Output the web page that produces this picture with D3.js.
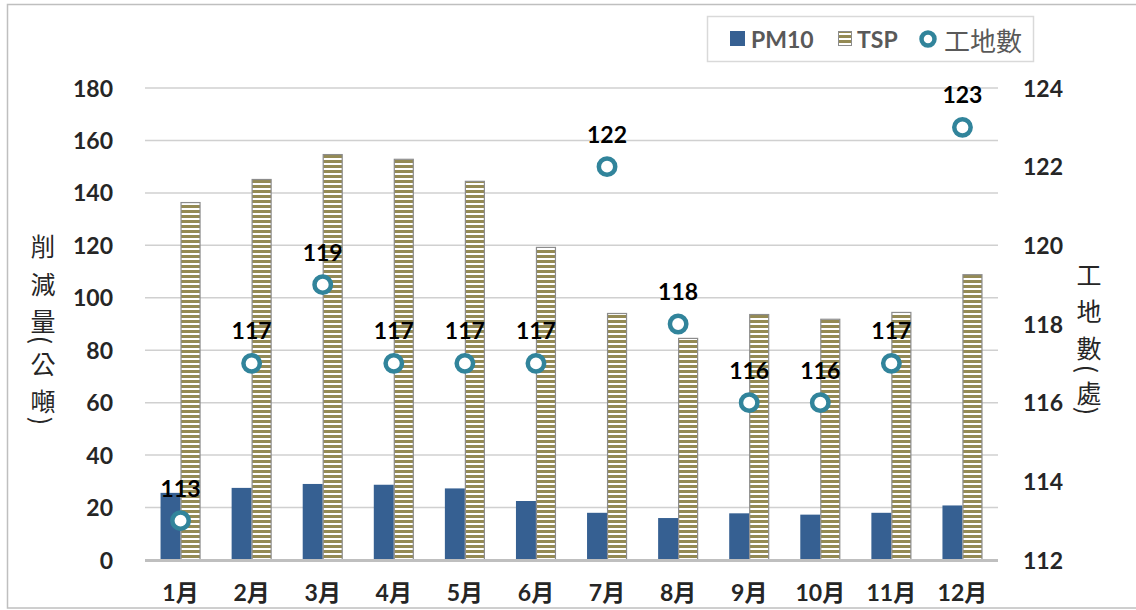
<!DOCTYPE html>
<html>
<head>
<meta charset="utf-8">
<script src="https://cdn.jsdelivr.net/npm/d3@7/dist/d3.min.js"></script>
<style>
  html, body { margin: 0; padding: 0; background: #fff; }
  svg { display: block; }
</style>
</head>
<body>
<svg id="chart" width="1136" height="610"></svg>
<script>
// Monthly dust reduction (tonnes) and number of construction sites
const months = ["1月","2月","3月","4月","5月","6月","7月","8月","9月","10月","11月","12月"];
const pm10 = [25.6, 27.5, 29.0, 28.7, 27.3, 22.5, 18.0, 16.0, 17.8, 17.3, 18.0, 20.8];
const tsp = [136.5, 145.3, 154.8, 153.0, 144.6, 119.4, 94.2, 84.7, 93.8, 92.0, 94.6, 109.0];
const sites = [113, 117, 119, 117, 117, 117, 122, 118, 116, 116, 117, 123];
const leftTicks = [0, 20, 40, 60, 80, 100, 120, 140, 160, 180];
const rightTicks = [112, 114, 116, 118, 120, 122, 124];

const latin = "Lato, 'Noto Sans CJK TC', sans-serif";
const cjk = "'Noto Sans CJK TC', 'Noto Sans', sans-serif";
const labelSize = 23;

const svg = d3.select("#chart");

const plot = { left: 145, right: 998, top: 88, bottom: 560 };

const x = d3.scaleBand().domain(months).range([plot.left, plot.right]);
const yL = d3.scaleLinear().domain([0, 180]).range([plot.bottom, plot.top]);
const yR = d3.scaleLinear().domain([112, 124]).range([plot.bottom, plot.top]);

// hatched fill for TSP bars
const defs = svg.append("defs");
const pat = defs.append("pattern")
  .attr("id", "tspHatch")
  .attr("patternUnits", "userSpaceOnUse")
  .attr("width", 8).attr("height", 5);
pat.append("rect").attr("width", 8).attr("height", 5).attr("fill", "#ffffff");
pat.append("rect").attr("y", 0).attr("width", 8).attr("height", 3).attr("fill", "#948a54");

// chart frame
svg.append("rect")
  .attr("x", 7.5).attr("y", 4.5).attr("width", 1140).attr("height", 603.5)
  .attr("fill", "none").attr("stroke", "#bfbfbf").attr("stroke-width", 1.5);

// gridlines
const grid = svg.append("g");
grid.selectAll("line").data(leftTicks.filter(d => d > 0)).join("line")
  .attr("x1", plot.left).attr("x2", plot.right)
  .attr("y1", d => yL(d)).attr("y2", d => yL(d))
  .attr("stroke", "#d0d0d0").attr("stroke-width", 1.5);

// left axis labels
const leftAxis = svg.append("g")
  .attr("transform", `translate(${plot.left - 32},0)`)
  .call(d3.axisLeft(yL).tickValues(leftTicks).tickSize(0).tickPadding(0));
leftAxis.select(".domain").remove();
leftAxis.selectAll("text")
  .attr("font-family", latin).attr("font-weight", "bold").attr("font-size", labelSize)
  .attr("fill", "#262626").attr("dy", "0.35em");

// right axis labels
const rightAxis = svg.append("g")
  .attr("transform", `translate(${plot.right + 25},0)`)
  .call(d3.axisRight(yR).tickValues(rightTicks).tickSize(0).tickPadding(0));
rightAxis.select(".domain").remove();
rightAxis.selectAll("text")
  .attr("font-family", latin).attr("font-weight", "bold").attr("font-size", labelSize)
  .attr("fill", "#262626").attr("dy", "0.35em");

// bars
const barW = 20;
const groups = svg.append("g");
groups.selectAll("rect.pm10").data(months).join("rect")
  .attr("class", "pm10")
  .attr("x", d => x(d) + x.bandwidth() / 2 - barW)
  .attr("width", barW)
  .attr("y", (d, i) => yL(pm10[i]))
  .attr("height", (d, i) => yL(0) - yL(pm10[i]))
  .attr("fill", "#366092");

groups.selectAll("rect.tsp").data(months).join("rect")
  .attr("class", "tsp")
  .attr("x", d => x(d) + x.bandwidth() / 2 + 0.5)
  .attr("width", barW - 1)
  .attr("y", (d, i) => yL(tsp[i]) + 0.5)
  .attr("height", (d, i) => yL(0) - yL(tsp[i]) - 0.5)
  .attr("fill", "url(#tspHatch)")
  .attr("stroke", "#8c8c8c").attr("stroke-width", 1.2);

// baseline
svg.append("line")
  .attr("x1", plot.left).attr("x2", plot.right)
  .attr("y1", yL(0) + 0.5).attr("y2", yL(0) + 0.5)
  .attr("stroke", "#bfbfbf").attr("stroke-width", 3);

// x axis labels
const xAxis = svg.append("g")
  .attr("transform", `translate(0,${plot.bottom + 23})`)
  .call(d3.axisBottom(x).tickSize(0).tickPadding(0));
xAxis.select(".domain").remove();
xAxis.selectAll("text")
  .attr("font-family", latin).attr("font-weight", "bold").attr("font-size", labelSize)
  .attr("fill", "#262626").attr("dy", "0.8em");

// site count markers
const cx = d => x(d) + x.bandwidth() / 2;
svg.append("g").selectAll("circle").data(months).join("circle")
  .attr("cx", cx)
  .attr("cy", (d, i) => yR(sites[i]))
  .attr("r", 8.2)
  .attr("fill", "#ffffff")
  .attr("stroke", "#31849b").attr("stroke-width", 4.5);

svg.append("g").selectAll("text").data(months).join("text")
  .attr("x", cx)
  .attr("y", (d, i) => yR(sites[i]) - 24)
  .attr("text-anchor", "middle")
  .attr("font-family", latin).attr("font-weight", "bold").attr("font-size", labelSize)
  .attr("fill", "#000")
  .text((d, i) => sites[i]);

// vertical axis titles, one glyph at a time
function verticalTitle(chars, xPos) {
  const g = svg.append("g");
  chars.forEach(c => {
    const t = g.append("text")
      .attr("font-family", cjk).attr("font-size", 25)
      .attr("fill", "#262626")
      .attr("text-anchor", "middle")
      .attr("dominant-baseline", "central")
      .text(c.ch);
    if (c.rot) {
      t.attr("transform", `translate(${xPos},${c.y}) rotate(90)`);
    } else {
      t.attr("x", xPos).attr("y", c.y);
    }
  });
}
verticalTitle([
  { ch: "削", y: 245 }, { ch: "減", y: 283 }, { ch: "量", y: 320 },
  { ch: "(", y: 340, rot: true }, { ch: "公", y: 363 }, { ch: "噸", y: 400 },
  { ch: ")", y: 421, rot: true }
], 43);
verticalTitle([
  { ch: "工", y: 274 }, { ch: "地", y: 310 }, { ch: "數", y: 347 },
  { ch: "(", y: 369, rot: true }, { ch: "處", y: 392 }, { ch: ")", y: 411, rot: true }
], 1089);

// legend
const legend = svg.append("g");
legend.append("rect")
  .attr("x", 707.5).attr("y", 16.5).attr("width", 326).attr("height", 45)
  .attr("fill", "#fff").attr("stroke", "#d9d9d9").attr("stroke-width", 1.5);
legend.append("rect").attr("x", 730).attr("y", 31).attr("width", 15).attr("height", 15).attr("fill", "#366092");
legend.append("text").attr("x", 751).attr("y", 39)
  .attr("dominant-baseline", "central")
  .attr("font-family", latin).attr("font-weight", "bold").attr("font-size", labelSize)
  .attr("fill", "#595959").text("PM10");
legend.append("rect").attr("x", 838.5).attr("y", 31.5).attr("width", 13).attr("height", 14)
  .attr("fill", "url(#tspHatch)").attr("stroke", "#8c8c8c").attr("stroke-width", 1);
legend.append("text").attr("x", 857).attr("y", 39)
  .attr("dominant-baseline", "central")
  .attr("font-family", latin).attr("font-weight", "bold").attr("font-size", labelSize)
  .attr("fill", "#595959").text("TSP");
legend.append("circle").attr("cx", 928).attr("cy", 39).attr("r", 6.5)
  .attr("fill", "#fff").attr("stroke", "#31849b").attr("stroke-width", 4.5);
legend.append("text").attr("x", 944).attr("y", 39)
  .attr("dominant-baseline", "central")
  .attr("font-family", cjk).attr("font-size", 26)
  .attr("fill", "#595959").text("工地數");
</script>
</body>
</html>
